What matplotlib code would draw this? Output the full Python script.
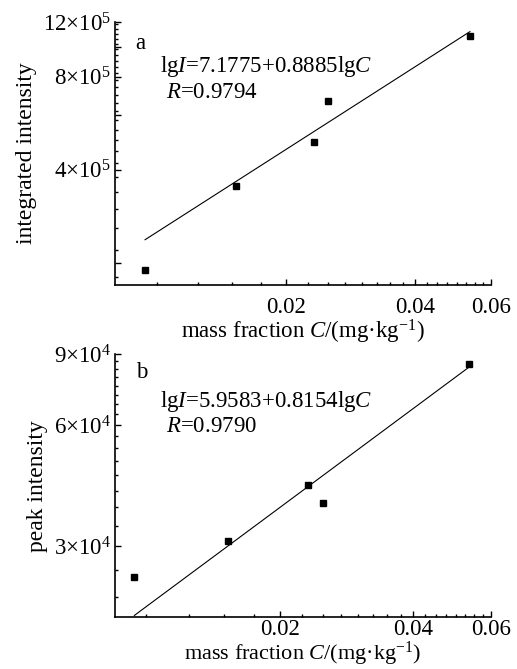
import numpy as np
import matplotlib
matplotlib.use("Agg")
import matplotlib.pyplot as plt
from matplotlib import ticker

# mass fraction C (mg/kg), same samples in both panels
conc = [0.0094, 0.0153, 0.0232, 0.0251, 0.0536]

# a: integrated intensity
integ = [1.90e5, 3.55e5, 4.92e5, 6.66e5, 1.08e6]
fit_a = (7.1775, 0.8885)
r_a = "0.9794"

# b: peak intensity
peak = [2.52e4, 3.09e4, 4.26e4, 3.85e4, 8.48e4]
fit_b = (5.9583, 0.8154)
r_b = "0.9790"

x_ticks = [0.02, 0.04, 0.06]
x_ticklabels = ["0.02", "0.04", "0.06"]

ya_ticks = [2e5, 4e5, 6e5, 8e5, 10e5, 12e5]
ya_ticklabels = ["", "4×10$^{5}$", "", "8×10$^{5}$", "", "12×10$^{5}$"]

yb_ticks = [3e4, 6e4, 9e4]
yb_ticklabels = ["3×10$^{4}$", "6×10$^{4}$", "9×10$^{4}$"]

plt.rcParams["font.family"] = ["Liberation Serif", "DejaVu Serif"]
plt.rcParams["mathtext.fontset"] = "custom"
plt.rcParams["mathtext.rm"] = "Liberation Serif"
plt.rcParams["mathtext.it"] = "Liberation Serif:italic"
plt.rcParams["mathtext.bf"] = "Liberation Serif:bold"

FS = 16.5


def panel(ax, y, fit, r, letter, ylabel, xlim, ylim, yticks, yticklabels, yminor,
          xpad, xlabelpad, xlabel_fs, txt_y):
    x = np.array(conc)
    ax.plot(x, y, "ks", ms=4.3, zorder=3)

    xl = np.array([x.min(), x.max()])
    ax.plot(xl, 10 ** (fit[0] + fit[1] * np.log10(xl)), "k-", lw=0.8)

    ax.set_xscale("log")
    ax.set_yscale("log")
    ax.set_xlim(*xlim)
    ax.set_ylim(*ylim)

    ax.xaxis.set_major_locator(ticker.FixedLocator(x_ticks))
    ax.xaxis.set_major_formatter(ticker.FixedFormatter(x_ticklabels))
    ax.xaxis.set_minor_locator(ticker.FixedLocator(np.arange(0.0100, 0.0600, 0.0025)))
    ax.xaxis.set_minor_formatter(ticker.NullFormatter())

    ax.yaxis.set_major_locator(ticker.FixedLocator(yticks))
    ax.yaxis.set_major_formatter(ticker.FixedFormatter(yticklabels))
    ax.yaxis.set_minor_locator(ticker.FixedLocator(yminor))
    ax.yaxis.set_minor_formatter(ticker.NullFormatter())

    for s in ["top", "right"]:
        ax.spines[s].set_visible(False)
    for s in ["left", "bottom"]:
        ax.spines[s].set_linewidth(1.2)

    ax.tick_params(which="both", direction="in", labelsize=FS, width=1.0)
    ax.tick_params(which="major", length=4.5)
    ax.tick_params(which="minor", length=2.5)
    ax.tick_params(axis="x", pad=xpad)
    ax.tick_params(axis="y", pad=3)

    ax.set_xlabel(r"mass fraction $C$/(mg·kg$^{-1}$)", fontsize=xlabel_fs,
                  labelpad=xlabelpad)
    ax.set_ylabel(ylabel, fontsize=FS + 0.5, labelpad=4)

    ax.text(0.055, txt_y[0], letter, transform=ax.transAxes, fontsize=FS, va="center")
    ax.text(0.12, txt_y[1], r"lg$I$=%.4f+%.4flg$C$" % fit, transform=ax.transAxes,
            fontsize=FS, va="center")
    ax.text(0.135, txt_y[2], r"$R$=" + r, transform=ax.transAxes, fontsize=FS,
            va="center")


fig = plt.figure(figsize=(5.17, 6.69), dpi=100)
ax1 = fig.add_axes([0.2224, 0.574, 0.7273, 0.393])
ax2 = fig.add_axes([0.2224, 0.0773, 0.7273, 0.3936])

panel(ax1, integ, fit_a, r_a, "a", "integrated intensity", (0.0080, 0.060),
      (1.70e5, 1.2e6), ya_ticks, ya_ticklabels, np.arange(1.8e5, 1.2e6, 0.4e5),
      8.5, 0, FS, (0.92, 0.83, 0.732))
panel(ax2, peak, fit_b, r_b, "b", "peak intensity", (0.0085, 0.060),
      (2.0e4, 9.0e4), yb_ticks, yb_ticklabels, np.arange(2.25e4, 9.0e4, 0.375e4),
      1.5, -0.5, 16, (0.928, 0.82, 0.726))

fig.savefig("out.png", dpi=100)
